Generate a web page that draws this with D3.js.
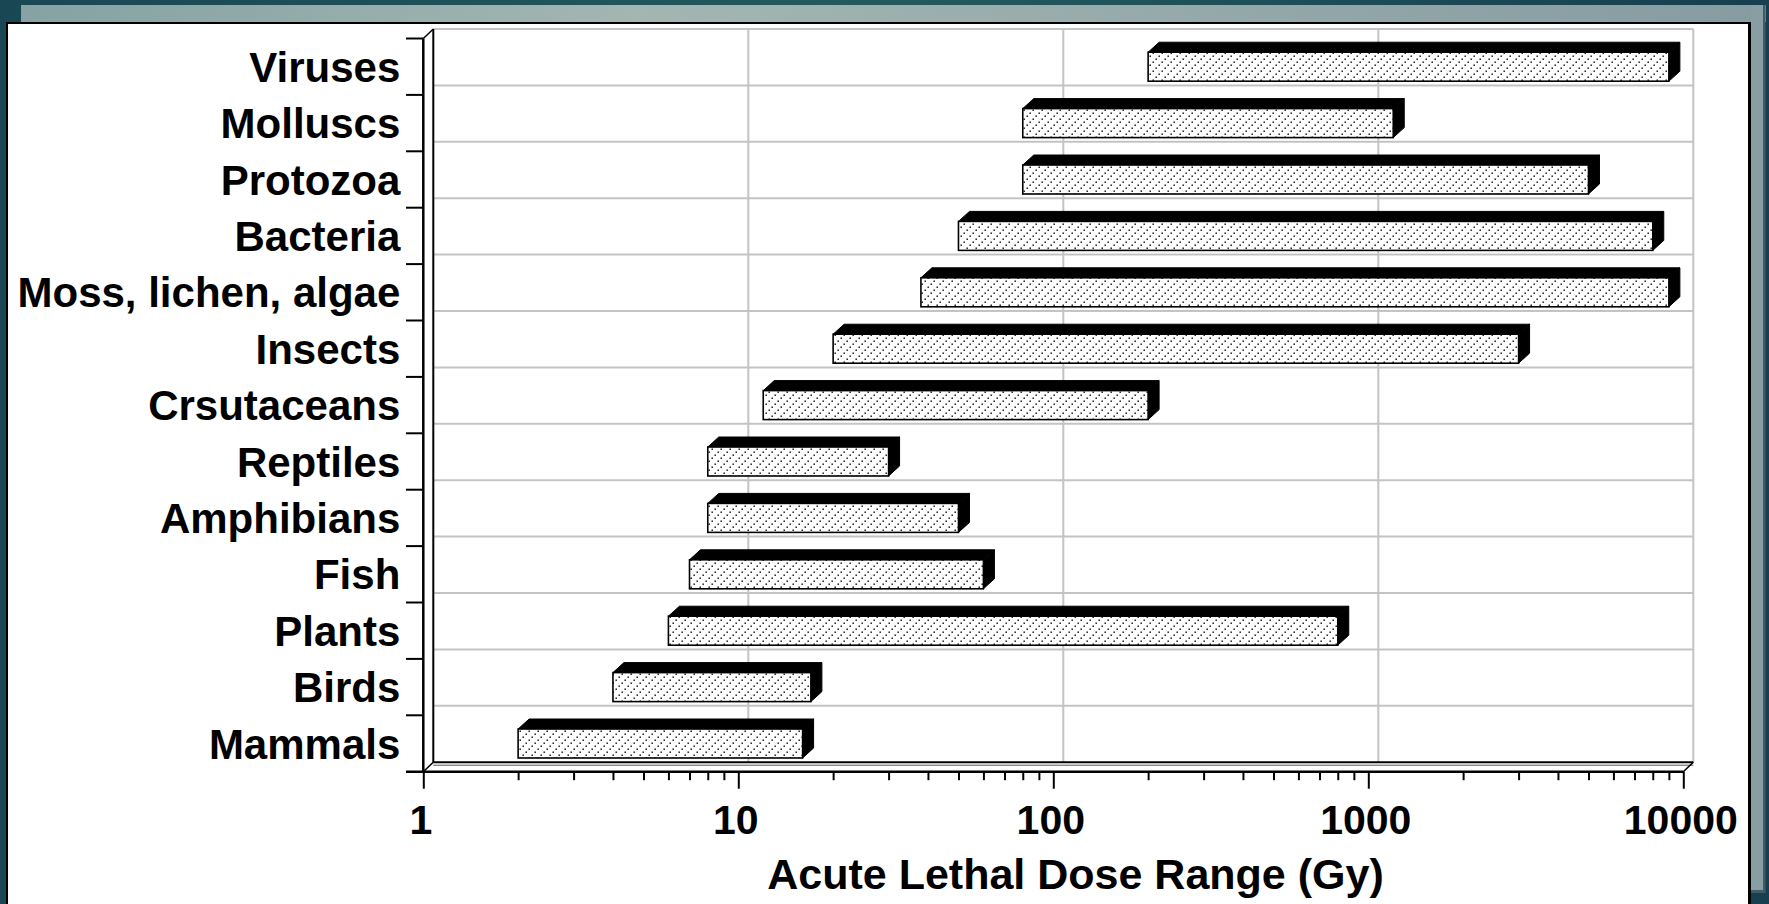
<!DOCTYPE html>
<html><head><meta charset="utf-8">
<script src="https://cdn.jsdelivr.net/npm/d3@7/dist/d3.min.js"></script>
<style>html,body{margin:0;padding:0;background:#1b4a56;overflow:hidden}</style>
</head><body><svg id="c" width="1769" height="904"></svg>
<script>
const categories = ["Viruses","Molluscs","Protozoa","Bacteria","Moss, lichen, algae","Insects","Crsutaceans","Reptiles","Amphibians","Fish","Plants","Birds","Mammals"];
const lowDose  = [200, 80, 80, 50, 38, 20, 12, 8, 8, 7, 6, 4, 2];
const highDose = [9000, 1200, 5000, 8000, 9000, 3000, 200, 30, 50, 60, 800, 17, 16];
const xTickValues = [1, 10, 100, 1000, 10000];
const xTickLabels = ["1", "10", "100", "1000", "10000"];
const axisTitle = "Acute Lethal Dose Range (Gy)";

const FONT = "'Liberation Sans', Arial, Helvetica, sans-serif";
const svg = d3.select("#c");
const defs = svg.append("defs");

// slide frame gradient
const g1 = defs.append("linearGradient").attr("id","band").attr("x1","0").attr("x2","1").attr("y1","0").attr("y2","0");
g1.append("stop").attr("offset","0").attr("stop-color","#86a2a3");
g1.append("stop").attr("offset","0.35").attr("stop-color","#a2b6b2");
g1.append("stop").attr("offset","1").attr("stop-color","#879ca2");
const g0 = defs.append("linearGradient").attr("id","bg").attr("x1","0").attr("x2","1").attr("y1","0").attr("y2","0");
g0.append("stop").attr("offset","0").attr("stop-color","#1a4754");
g0.append("stop").attr("offset","0.5").attr("stop-color","#245a5e");
g0.append("stop").attr("offset","1").attr("stop-color","#173f4f");

// dotted diagonal hatch pattern
const pat = defs.append("pattern").attr("id","hatch").attr("patternUnits","userSpaceOnUse")
  .attr("width",9).attr("height",9);
pat.append("rect").attr("width",9).attr("height",9).attr("fill","#fff");
[[0.5,7.5],[3.5,4.5],[6.5,1.5]].forEach(([px,py]) => pat.append("rect").attr("x",px).attr("y",py).attr("width",1.4).attr("height",1.4).attr("fill","#000"));

// background / frame
svg.append("rect").attr("width",1769).attr("height",904).attr("fill","url(#bg)");
svg.append("rect").attr("x",21).attr("y",5).attr("width",1745).attr("height",17).attr("fill","url(#band)");
svg.append("rect").attr("x",1751).attr("y",5).attr("width",13).attr("height",886).attr("fill","#899ea3");
svg.append("rect").attr("x",1763).attr("y",5).attr("width",2.5).attr("height",888).attr("fill","#3e5c66");
svg.append("rect").attr("x",1751).attr("y",890).attr("width",14).attr("height",3).attr("fill","#3e5c66");
svg.append("rect").attr("x",6).attr("y",22).attr("width",1745).attr("height",882).attr("fill","#000");
svg.append("rect").attr("x",8).attr("y",24).attr("width",1740).attr("height",880).attr("fill","#fff");

// scales
const X0 = 423.3, X1 = 1683.3, Y0 = 38.5, Y1 = 771.7;
const DX = 10, DY = -9.5;     // wall depth
const BDX = 11, BDY = -10;    // bar depth
const x = d3.scaleLog().domain([1, 10000]).range([X0, X1]);
const y = d3.scaleBand().domain(categories).range([Y0, Y1]).paddingInner(0.486).paddingOuter(0.243);
const step = y.step(), bw = y.bandwidth();

const plot = svg.append("g");

// back wall gridlines
const grid = plot.append("g").attr("stroke","#c4c4c4").attr("stroke-width",2).attr("fill","none");
d3.range(0, categories.length).forEach(i => {
  const yy = Y0 + step * i + DY;
  grid.append("line").attr("x1", X0 + DX).attr("x2", X1 + DX).attr("y1", yy).attr("y2", yy);
});
xTickValues.slice(1).forEach(v => {
  grid.append("line").attr("x1", x(v) + DX).attr("x2", x(v) + DX).attr("y1", Y0 + DY).attr("y2", Y1 + DY);
});

// walls & floor outlines
const frame = plot.append("g").attr("stroke","#000").attr("fill","none");
frame.append("line").attr("x1", X0 + DX).attr("x2", X0 + DX).attr("y1", Y0 + DY).attr("y2", Y1 + DY).attr("stroke-width",2);
frame.append("line").attr("x1", X0 + DX).attr("x2", X1 + DX).attr("y1", Y1 + DY).attr("y2", Y1 + DY).attr("stroke-width",2);
frame.append("line").attr("x1", X0 + DX).attr("x2", X1 + DX).attr("y1", Y1 + DY + 3).attr("y2", Y1 + DY + 3).attr("stroke-width",1).attr("stroke","#555");
frame.append("line").attr("x1", X0).attr("x2", X0 + DX).attr("y1", Y0).attr("y2", Y0 + DY).attr("stroke-width",1.5);
frame.append("line").attr("x1", X0).attr("x2", X0 + DX).attr("y1", Y1).attr("y2", Y1 + DY).attr("stroke-width",1.5);
frame.append("line").attr("x1", X1).attr("x2", X1 + DX).attr("y1", Y1).attr("y2", Y1 + DY).attr("stroke-width",1.5);

// bars
const bars = plot.append("g");
categories.forEach((c, i) => {
  const x0 = x(lowDose[i]), x1 = x(highDose[i]);
  const yt = y(c), yb = yt + bw;
  bars.append("path").attr("d", `M${x0},${yt}L${x0+BDX},${yt+BDY}L${x1+BDX},${yt+BDY}L${x1},${yt}Z`).attr("fill","#000").attr("stroke","#000").attr("stroke-width",1);
  bars.append("path").attr("d", `M${x1},${yt}L${x1+BDX},${yt+BDY}L${x1+BDX},${yb+BDY}L${x1},${yb}Z`).attr("fill","#000").attr("stroke","#000").attr("stroke-width",1);
  bars.append("rect").attr("x", x0).attr("y", yt).attr("width", x1 - x0).attr("height", bw)
    .attr("fill","url(#hatch)").attr("stroke","#000").attr("stroke-width",1.6);
});

// x axis (front)
const minorVals = [];
[1,10,100,1000].forEach(d => { for (let k = 1; k < 10; k++) minorVals.push(d * k); });
minorVals.push(10000);
const xAxis = d3.axisBottom(x).tickValues(minorVals).tickSizeOuter(0)
  .tickFormat(v => { const j = xTickValues.indexOf(v); return j >= 0 ? xTickLabels[j] : ""; });
const gx = svg.append("g").attr("transform", `translate(0,${Y1})`).call(xAxis);
gx.select(".domain").remove();
gx.selectAll(".tick line").attr("stroke","#000").attr("stroke-width",2)
  .attr("y2", v => xTickValues.includes(v) ? 17 : 8.5);
gx.selectAll(".tick text").attr("y", 62).attr("dy", null).attr("dx", -3)
  .attr("fill","#000").style("font-family", FONT).style("font-size","41px").style("font-weight","bold");
svg.append("line").attr("x1", 406).attr("x2", X1).attr("y1", Y1).attr("y2", Y1).attr("stroke","#000").attr("stroke-width",2.5);

// y axis (front)
const yAxis = d3.axisLeft(y).tickSize(0).tickPadding(23);
const gy = svg.append("g").attr("transform", `translate(${X0},0)`).call(yAxis);
gy.select(".domain").remove();
gy.selectAll(".tick text").attr("dy","0.36em").attr("fill","#000")
  .style("font-family", FONT).style("font-size","42px").style("font-weight","bold");
svg.append("line").attr("x1", X0).attr("x2", X0).attr("y1", Y0).attr("y2", Y1).attr("stroke","#000").attr("stroke-width",2.5);
d3.range(0, categories.length).forEach(i => {
  const yy = Y0 + step * i;
  svg.append("line").attr("x1", 406).attr("x2", X0).attr("y1", yy).attr("y2", yy).attr("stroke","#000").attr("stroke-width",2);
});

// title
svg.append("text").attr("x", 1075.5).attr("y", 889).attr("text-anchor","middle").attr("fill","#000")
  .style("font-family", FONT).style("font-size","43px").style("font-weight","bold").text(axisTitle);
</script>
</body></html>
